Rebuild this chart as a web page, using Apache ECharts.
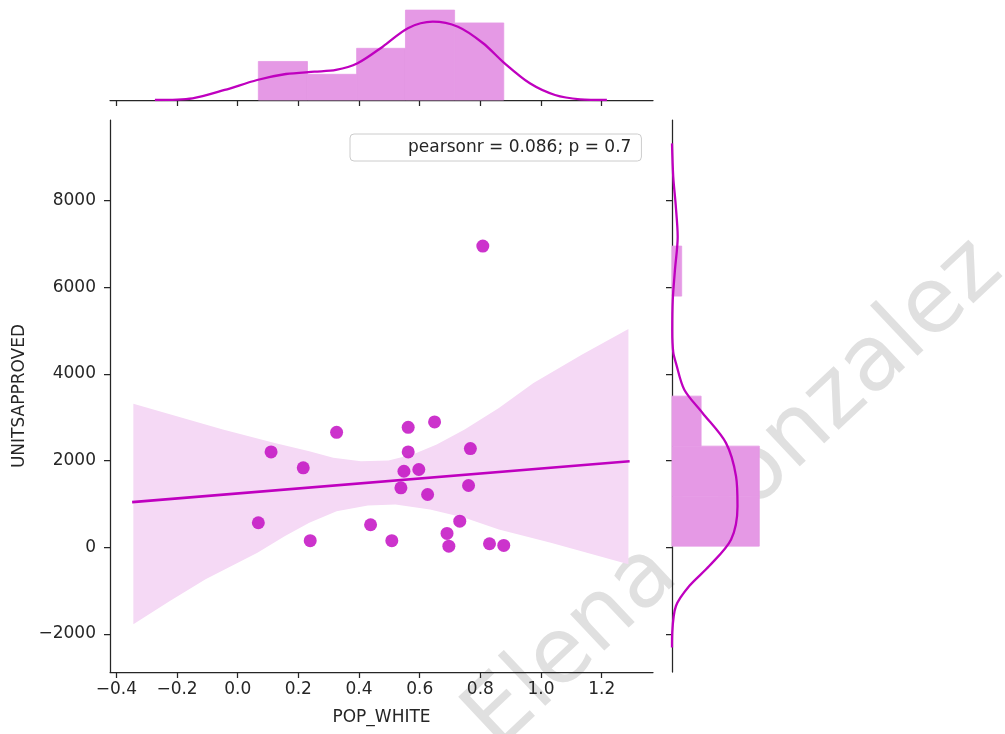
<!DOCTYPE html>
<html>
<head>
<meta charset="utf-8">
<script src="https://cdn.jsdelivr.net/npm/echarts@6/dist/echarts.min.js"></script>
<style>
  html, body { margin: 0; padding: 0; background: #fff; }
  #chart { width: 1005px; height: 734px; }
</style>
</head>
<body>
<div id="chart"></div>
<script>
// joint plot: POP_WHITE vs UNITSAPPROVED (reg + marginal hist/kde)
let popWhite = [0.068, 0.110, 0.216, 0.239, 0.326, 0.438, 0.508, 0.562, 0.562, 0.548, 0.597,
  0.538, 0.626, 0.649, 0.767, 0.761, 0.732, 0.690, 0.696, 0.830, 0.877, 0.808]
let unitsApproved = [565, 2200, 1832, 150, 2652, 518, 150, 2767, 2200, 1753, 1793,
  1371, 1217, 2892, 2276, 1424, 601, 318, 25, 80, 41, 6950]

// fitted line and its confidence band
let regX = [-0.348, 1.292]
let regY = [1039, 1984]
let bandUpperX = [-0.344, -0.049, 0.122, 0.236, 0.315, 0.406, 0.497, 0.577, 0.656, 0.748, 0.861, 0.975, 1.134, 1.288]
let bandUpperY = [3313, 2714, 2408, 2214, 2062, 1984, 2000, 2138, 2369, 2714, 3214, 3790, 4442, 5035]
let bandLowerX = [-0.344, -0.225, -0.106, 0.065, 0.156, 0.236, 0.326, 0.429, 0.520, 0.634, 0.748, 0.861, 1.032, 1.288]
let bandLowerY = [-1779, -1248, -742, -127, 256, 565, 832, 963, 986, 871, 680, 410, 104, -396]

// marginal histograms (counts per bin)
let xBinEdges = [0.068, 0.230, 0.392, 0.553, 0.715, 0.877]
let xCounts = [3, 2, 4, 7, 6]
let yBinEdges = [25, 1179, 2333, 3487, 4641, 5796, 6950]
let yCounts = [9, 9, 3, 0, 0, 1]

// marginal kde curves (density)
let kdeXValues = [-0.273, -0.149, -0.043, 0.064, 0.159, 0.253, 0.324, 0.395, 0.478, 0.561, 0.643,
  0.726, 0.809, 0.880, 0.963, 1.046, 1.129, 1.217]
let kdeXDensity = [0, 0.037, 0.219, 0.437, 0.568, 0.619, 0.656, 0.802, 1.165, 1.569, 1.711,
  1.60, 1.24, 0.80, 0.364, 0.109, 0.015, 0]
let kdeYValues = [9320, 8550, 7900, 7168, 6400, 5700, 5000, 4500, 4250, 3636, 3099, 2408,
  1638, 947, 180, -435, -896, -1357, -1970, -2315]
let kdeYDensity = [0, 0.000005, 0.000015, 0.0000231, 0.000012, 0.000003, 0.000001, 0.000005,
  0.000016, 0.00005, 0.000124, 0.000219, 0.00026, 0.000266, 0.00024, 0.000151, 0.00007,
  0.000016, 0.000001, 0]

let xTicks = [-0.4, -0.2, 0, 0.2, 0.4, 0.6, 0.8, 1.0, 1.2]
let yTicks = [-2000, 0, 2000, 4000, 6000, 8000]
let legendText = 'pearsonr = 0.086; p = 0.7'
let watermark = 'Elena Gonzalez'

let xMin = -0.421, xMax = 1.369
let yMin = -2880, yMax = 9860

let mainColor = '#bf00bf'
let histColor = '#e599e5'
let bandColor = '#f5d9f5'
let axisColor = '#262626'
let font = 'DejaVu Sans'

let n = popWhite.length

function fmt(v, digits) {
  let s = Math.abs(v).toFixed(digits)
  return v < 0 ? '\u2212' + s : s
}

let axisLine = { show: true, onZero: false, lineStyle: { color: axisColor, width: 1.25 } }
let labelStyle = { fontFamily: font, fontSize: 17, color: axisColor }

let topHist = xCounts.map(function (c, i) {
  let w = xBinEdges[i + 1] - xBinEdges[i]
  return [xBinEdges[i], xBinEdges[i + 1], c / (n * w)]
})
let rightHist = yCounts.map(function (c, i) {
  let w = yBinEdges[i + 1] - yBinEdges[i]
  return [yBinEdges[i], yBinEdges[i + 1], c / (n * w)]
})

function histRect(p0, p1) {
  return {
    type: 'rect',
    shape: { x: p0[0], y: p0[1], width: p1[0] - p0[0], height: p1[1] - p0[1] },
    style: { fill: histColor, stroke: histColor, lineWidth: 0.8 }
  }
}

let chart = echarts.init(document.getElementById('chart'))

let option = {
  animation: false,
  textStyle: { fontFamily: font },
  grid: [
    { left: 110, top: 120, width: 543, height: 552, outerBoundsMode: 'none' },
    { left: 110, top: 5, width: 543, height: 95, outerBoundsMode: 'none' },
    { left: 672, top: 120, width: 92, height: 552, outerBoundsMode: 'none' }
  ],
  xAxis: [
    {
      gridIndex: 0, type: 'value', min: xMin, max: xMax,
      name: 'POP_WHITE', nameLocation: 'middle', nameGap: 37, nameTextStyle: labelStyle,
      axisLine: axisLine,
      axisTick: { show: true, length: 6, customValues: xTicks, lineStyle: { color: axisColor, width: 1.25 } },
      axisLabel: Object.assign({ customValues: xTicks, margin: 9, formatter: function (v) { return fmt(v, 1) } }, labelStyle),
      splitLine: { show: false }
    },
    {
      gridIndex: 1, type: 'value', min: xMin, max: xMax,
      axisLine: axisLine,
      axisTick: { show: true, length: 6, customValues: xTicks, lineStyle: { color: axisColor, width: 1.25 } },
      axisLabel: { show: false },
      splitLine: { show: false }
    },
    { gridIndex: 2, type: 'value', min: 0, max: 0.0003736, show: false, splitLine: { show: false } }
  ],
  yAxis: [
    {
      gridIndex: 0, type: 'value', min: yMin, max: yMax,
      name: 'UNITSAPPROVED', nameLocation: 'middle', nameGap: 77, nameTextStyle: labelStyle,
      axisLine: axisLine,
      axisTick: { show: true, length: 6, customValues: yTicks, lineStyle: { color: axisColor, width: 1.25 } },
      axisLabel: Object.assign({ customValues: yTicks, margin: 14, formatter: function (v) { return fmt(v, 0) } }, labelStyle),
      splitLine: { show: false }
    },
    { gridIndex: 1, type: 'value', min: 0, max: 2.076, show: false, splitLine: { show: false } },
    {
      gridIndex: 2, type: 'value', min: yMin, max: yMax,
      axisLine: axisLine,
      axisTick: { show: true, length: 6, customValues: yTicks, lineStyle: { color: axisColor, width: 1.25 } },
      axisLabel: { show: false },
      splitLine: { show: false }
    }
  ],
  legend: {
    left: 350, top: 134,
    data: [{ name: legendText, icon: 'none' }],
    itemWidth: 45, itemHeight: 14,
    padding: [5, 10, 5, 8],
    backgroundColor: '#fff', borderColor: '#cccccc', borderWidth: 1, borderRadius: 4,
    textStyle: labelStyle,
    selectedMode: false
  },
  graphic: [{
    type: 'text', x: 735, y: 495, rotation: 0.755, z: -1, silent: true,
    style: {
      text: watermark, font: '91px "DejaVu Sans"', fill: '#e0e0e0',
      textAlign: 'center', textVerticalAlign: 'middle'
    }
  }],
  series: [
    {
      type: 'custom', xAxisIndex: 0, yAxisIndex: 0, z: 1, silent: true,
      data: [[bandUpperX[0], bandUpperY[0]]],
      encode: { x: 0, y: 1 },
      renderItem: function (params, api) {
        let pts = []
        bandUpperX.forEach(function (x, i) { pts.push(api.coord([x, bandUpperY[i]])) })
        for (let i = bandLowerX.length - 1; i >= 0; i--) {
          pts.push(api.coord([bandLowerX[i], bandLowerY[i]]))
        }
        return { type: 'polygon', shape: { points: pts }, style: { fill: bandColor } }
      }
    },
    {
      name: legendText, type: 'scatter', xAxisIndex: 0, yAxisIndex: 0, z: 3,
      symbolSize: 13,
      itemStyle: { color: mainColor, opacity: 0.8 },
      data: popWhite.map(function (x, i) { return [x, unitsApproved[i]] })
    },
    {
      type: 'line', xAxisIndex: 0, yAxisIndex: 0, z: 4, symbol: 'none',
      lineStyle: { color: mainColor, width: 2.7 },
      data: regX.map(function (x, i) { return [x, regY[i]] })
    },
    {
      type: 'custom', xAxisIndex: 1, yAxisIndex: 1, z: 2,
      data: topHist,
      encode: { x: [0, 1], y: 2 },
      renderItem: function (params, api) {
        return histRect(api.coord([api.value(0), api.value(2)]), api.coord([api.value(1), 0]))
      }
    },
    {
      type: 'line', xAxisIndex: 1, yAxisIndex: 1, z: 3, symbol: 'none', smooth: 0.3,
      lineStyle: { color: mainColor, width: 2.3 },
      data: kdeXValues.map(function (x, i) { return [x, kdeXDensity[i]] })
    },
    {
      type: 'custom', xAxisIndex: 2, yAxisIndex: 2, z: 2,
      data: rightHist,
      encode: { x: 2, y: [0, 1] },
      renderItem: function (params, api) {
        let w = api.value(2)
        if (!w) return null
        return histRect(api.coord([0, api.value(1)]), api.coord([w, api.value(0)]))
      }
    },
    {
      type: 'line', xAxisIndex: 2, yAxisIndex: 2, z: 3, symbol: 'none', smooth: 0.3,
      lineStyle: { color: mainColor, width: 2.3 },
      data: kdeYValues.map(function (y, i) { return [kdeYDensity[i], y] })
    }
  ]
}

chart.setOption(option)
window.addEventListener('resize', function () { chart.resize() })
</script>
</body>
</html>
